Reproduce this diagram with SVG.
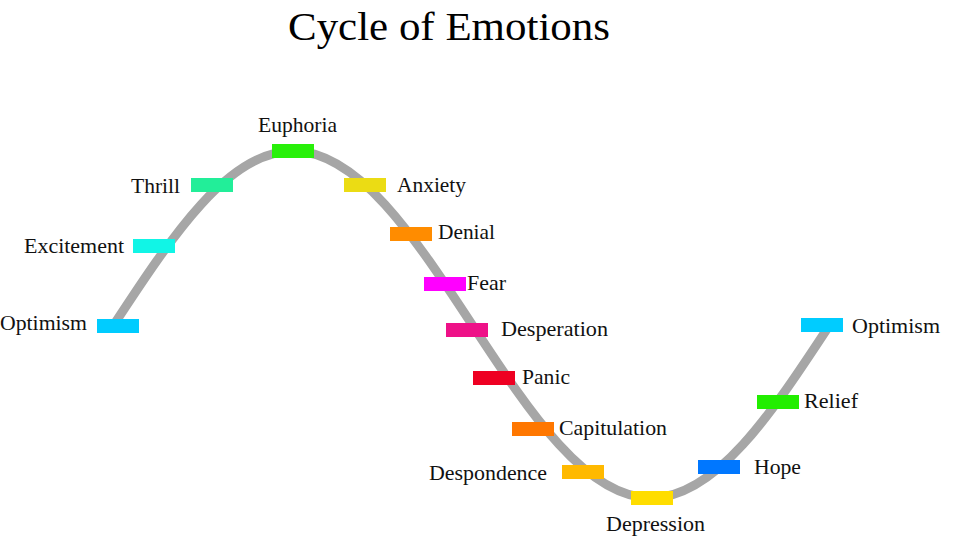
<svg xmlns="http://www.w3.org/2000/svg" width="963" height="557" viewBox="0 0 963 557">
<style>
.bg{fill:#ffffff}
.curve{fill:none;stroke:#a6a6a6;stroke-width:9}
.title{font-family:"Liberation Serif","Times New Roman",serif;font-size:40px;fill:#000}
.lbl{font-family:"Liberation Serif","Times New Roman",serif;font-size:21px;fill:#111}
</style>
<rect class="bg" x="0" y="0" width="963" height="557"/>
<text class="title" x="288" y="40" textLength="322" lengthAdjust="spacingAndGlyphs">Cycle of Emotions</text>
<g id="connectors">
<path class="curve" d="M114,324.5 C172.4,235.6 228.2,151 293,151 C357.8,151 413.6,235.6 472,324.5 C530.4,413.4 586.2,498 651,498 C715.8,498 771.6,413.4 830,324.5"/>
</g>
<g id="optimism-start"><rect x="97" y="319" width="42" height="14" fill="#00ccff"/><text class="lbl" x="0" y="330" textLength="87" lengthAdjust="spacingAndGlyphs">Optimism</text></g>
<g id="excitement"><rect x="133" y="239" width="42" height="14" fill="#11f5e6"/><text class="lbl" x="24" y="253" textLength="100" lengthAdjust="spacingAndGlyphs">Excitement</text></g>
<g id="thrill"><rect x="191" y="178" width="42" height="14" fill="#22ee99"/><text class="lbl" x="131" y="193" textLength="49" lengthAdjust="spacingAndGlyphs">Thrill</text></g>
<g id="euphoria"><rect x="272" y="144" width="42" height="14" fill="#28f00a"/><text class="lbl" x="258" y="132" textLength="79" lengthAdjust="spacingAndGlyphs">Euphoria</text></g>
<g id="anxiety"><rect x="344" y="178" width="42" height="14" fill="#ebdc14"/><text class="lbl" x="397" y="192" textLength="69" lengthAdjust="spacingAndGlyphs">Anxiety</text></g>
<g id="denial"><rect x="390" y="227" width="42" height="14" fill="#ff8c00"/><text class="lbl" x="438" y="238.5" textLength="57" lengthAdjust="spacingAndGlyphs">Denial</text></g>
<g id="fear"><rect x="424" y="277" width="42" height="14" fill="#ff00ff"/><text class="lbl" x="467" y="289.5" textLength="39" lengthAdjust="spacingAndGlyphs">Fear</text></g>
<g id="desperation"><rect x="446" y="323" width="42" height="14" fill="#ee1188"/><text class="lbl" x="501" y="336" textLength="107" lengthAdjust="spacingAndGlyphs">Desperation</text></g>
<g id="panic"><rect x="473" y="371" width="42" height="14" fill="#ee0022"/><text class="lbl" x="522" y="384" textLength="48" lengthAdjust="spacingAndGlyphs">Panic</text></g>
<g id="capitulation"><rect x="512" y="422" width="42" height="14" fill="#ff7700"/><text class="lbl" x="559" y="434.5" textLength="108" lengthAdjust="spacingAndGlyphs">Capitulation</text></g>
<g id="despondence"><rect x="562" y="465" width="42" height="14" fill="#ffb900"/><text class="lbl" x="429" y="479.5" textLength="118" lengthAdjust="spacingAndGlyphs">Despondence</text></g>
<g id="depression"><rect x="631" y="491" width="42" height="14" fill="#ffdd00"/><text class="lbl" x="606" y="530.5" textLength="99" lengthAdjust="spacingAndGlyphs">Depression</text></g>
<g id="hope"><rect x="698" y="460" width="42" height="14" fill="#0077ff"/><text class="lbl" x="754" y="474" textLength="47" lengthAdjust="spacingAndGlyphs">Hope</text></g>
<g id="relief"><rect x="757" y="395" width="42" height="14" fill="#22ee00"/><text class="lbl" x="804" y="408" textLength="54" lengthAdjust="spacingAndGlyphs">Relief</text></g>
<g id="optimism-end"><rect x="801" y="318" width="42" height="14" fill="#00ccff"/><text class="lbl" x="852" y="333" textLength="88" lengthAdjust="spacingAndGlyphs">Optimism</text></g>
</svg>
